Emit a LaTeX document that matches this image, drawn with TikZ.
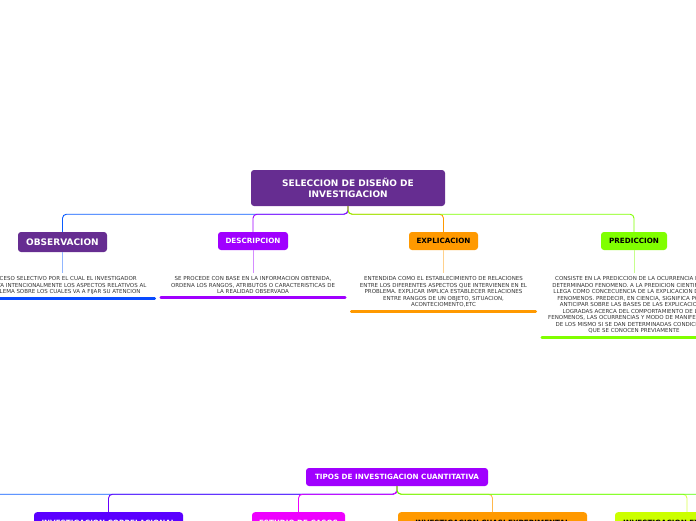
\documentclass[tikz,border=0pt]{standalone}
\usepackage{fontspec}
\setmainfont{DejaVu Sans}
\usetikzlibrary{positioning}
\definecolor{grape}{HTML}{662D91}
\definecolor{azure}{HTML}{0A5CFF}
\definecolor{electric}{HTML}{A000FF}
\definecolor{amber}{HTML}{FF9900}
\definecolor{limey}{HTML}{80FF00}
\definecolor{indigoish}{HTML}{5A00FF}
\definecolor{fuchsia}{HTML}{EE00FF}
\definecolor{citron}{HTML}{CCFF00}
\definecolor{spring}{HTML}{55FF00}
\definecolor{notegray}{HTML}{333333}

\begin{document}
\begin{tikzpicture}[
  x=1pt, y=-1pt,
  topic/.style={rectangle, rounded corners=3pt, fill=#1, text=white,
                align=center, inner sep=0pt, minimum height=18pt,
                font=\bfseries\fontsize{7.2}{8.6}\selectfont},
  leaf/.style={topic=#1, anchor=north, inner ysep=8pt, minimum height=0pt},
  note/.style={align=center, inner xsep=0pt, inner ysep=3.5pt,
               minimum width=184pt, text=notegray,
               font=\fontsize{5.5}{6.5}\selectfont},
  conn/.style={draw, line width=0.9pt, rounded corners=4pt},
  stem/.style={draw, line width=0.9pt},
  uline/.style={draw, line width=2.6pt, line cap=round},
  node distance=23pt
]
\useasboundingbox (0,0) rectangle (696,520);

% upper map
\node[topic=grape, minimum width=194pt, minimum height=36pt,
      font=\bfseries\fontsize{9}{11}\selectfont] (sel) at (348,188)
      {SELECCION DE DISEÑO DE\\INVESTIGACION};
\node[topic=grape, minimum width=89pt, minimum height=20pt,
      font=\bfseries\fontsize{9}{10}\selectfont] (obs) at (62.5,242) {OBSERVACION};
\node[topic=electric, minimum width=70pt] (desc) at (253,241) {DESCRIPCION};
\node[topic=amber, text=black, minimum width=69pt] (expl) at (443.5,241) {EXPLICACION};
\node[topic=limey, text=black, minimum width=66pt] (pred) at (634,241) {PREDICCION};

\node[note, below=21pt of obs] (obsnote)
  {PROCESO SELECTIVO POR EL CUAL EL INVESTIGADOR\\
   DELIMITA INTENCIONALMENTE LOS ASPECTOS RELATIVOS AL\\
   PROBLEMA SOBRE LOS CUALES VA A FIJAR SU ATENCION};
\node[note, below=of desc] (descnote)
  {SE PROCEDE CON BASE EN LA INFORMACION OBTENIDA,\\
   ORDENA LOS RANGOS, ATRIBUTOS O CARACTERISTICAS DE\\
   LA REALIDAD OBSERVADA};
\node[note, below=of expl] (explnote)
  {ENTENDIDA COMO EL ESTABLECIMIENTO DE RELACIONES\\
   ENTRE LOS DIFERENTES ASPECTOS QUE INTERVIENEN EN EL\\
   PROBLEMA. EXPLICAR IMPLICA ESTABLECER RELACIONES\\
   ENTRE RANGOS DE UN OBJETO, SITUACION,\\
   ACONTECIOMENTO,ETC};
\node[note, below=of pred] (prednote)
  {CONSISTE EN LA PREDICCION DE LA OCURRENCIA DE UN\\
   DETERMINADO FENOMENO. A  LA PREDICION CIENTIFICA SE\\
   LLEGA COMO CONCECUENCIA DE LA EXPLICACION DE LOS\\
   FENOMENOS. PREDECIR, EN CIENCIA, SIGNIFICA PODER\\
   ANTICIPAR SOBRE LAS BASES DE LAS EXPLICACIONES\\
   LOGRADAS ACERCA DEL COMPORTAMIENTO DE LOS\\
   FENOMENOS, LAS OCURRENCIAS Y MODO DE MANIFESTACION\\
   DE LOS MISMO SI SE DAN DETERMINADAS CONDICIONES\\
   QUE SE CONOCEN PREVIAMENTE};

\draw[conn, azure] (sel.south) -- ++(0,8) -| (obs.north);
\draw[conn, electric] (sel.south) -- ++(0,8) -| (desc.north);
\draw[conn, amber] (sel.south) -- ++(0,8) -| (expl.north);
\draw[conn, limey] (sel.south) -- ++(0,8) -| (pred.north);

\draw[stem, azure!45] (obs) -- (obsnote);
\draw[stem, electric!45] (desc) -- (descnote);
\draw[stem, amber!45] (expl) -- (explnote);
\draw[stem, limey!45] (pred) -- (prednote);

\draw[uline, azure!80!blue] (obsnote.south west) -- (obsnote.south east);
\draw[uline, electric] (descnote.south west) -- (descnote.south east);
\draw[uline, amber] (explnote.south west) -- (explnote.south east);
\draw[uline, limey] (prednote.south west) -- (prednote.south east);

% lower map
\node[topic=electric, minimum width=182pt] (tipos) at (397,477)
  {TIPOS DE INVESTIGACION CUANTITATIVA};
\node[leaf=indigoish, minimum width=149pt] (corr) at (108.5,512) {INVESTIGACION CORRELACIONAL};
\node[leaf=fuchsia, minimum width=93pt] (caso) at (298.5,512) {ESTUDIO DE CASOS};
\node[leaf=amber, text=black, minimum width=189pt] (cuasi) at (492.5,512) {INVESTIGACION CUASI EXPERIMENTAL};
\node[leaf=citron, text=black, minimum width=144pt] (expe) at (687,512) {INVESTIGACION EXPERIMENTAL};
\coordinate (offleft) at (-90,512);
\coordinate (offright) at (800,512);

\draw[conn, azure] (tipos.south) -- ++(0,8) -| (offleft);
\draw[conn, indigoish!80!electric] (tipos.south) -- ++(0,8) -| (corr.north);
\draw[conn, fuchsia] (tipos.south) -- ++(0,8) -| (caso.north);
\draw[conn, amber!70] (tipos.south) -- ++(0,8) -| (cuasi.north);
\draw[conn, citron!70] (tipos.south) -- ++(0,8) -| (expe.north);
\draw[conn, spring] (tipos.south) -- ++(0,8) -| (offright);
\end{tikzpicture}
\end{document}
